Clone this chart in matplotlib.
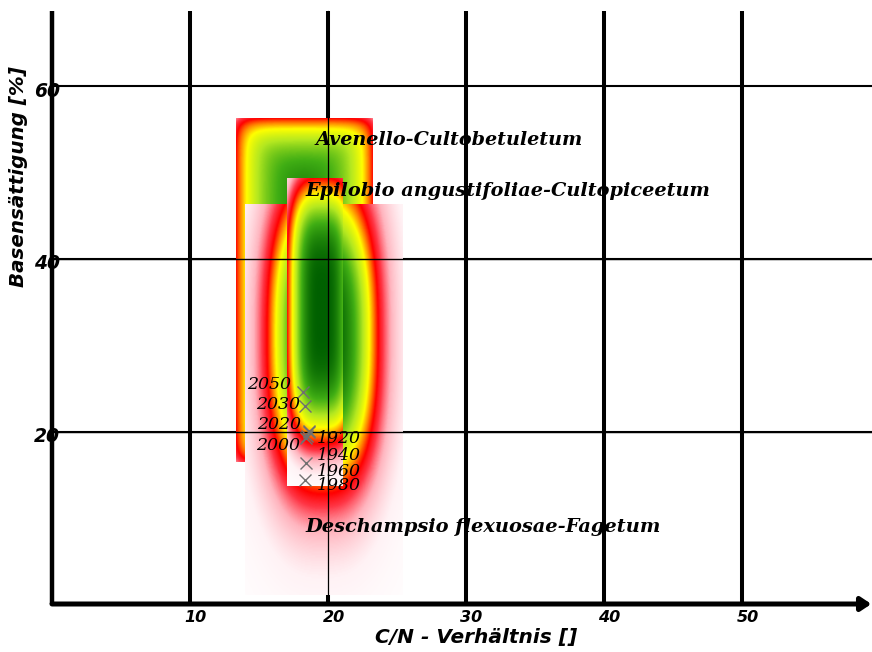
import numpy as np
import matplotlib
matplotlib.use('Agg')
import matplotlib.pyplot as plt
from matplotlib.colors import LinearSegmentedColormap

# ---------------- data ----------------
x_ticks = [10, 20, 30, 40, 50]
y_ticks = [20, 40, 60]
x_label = "C/N - Verhältnis []"
y_label = "Basensättigung [%]"

years = ['1920', '1940', '1960', '1980', '2000', '2020', '2030', '2050']
cn_values = [18.6, 18.4, 18.4, 18.3, 18.5, 18.6, 18.3, 18.2]
bs_values = [19.9, 19.3, 16.3, 14.4, 19.5, 20.1, 23.0, 24.6]

community_names = ['Avenello-Cultobetuletum',
                   'Deschampsio flexuosae-Fagetum',
                   'Epilobio angustifoliae-Cultopiceetum']
# extent of each niche field: (cn_min, cn_max, bs_min, bs_max)
niche_extents = [(13.3, 23.2, 16.5, 56.3),
                 (14.0, 25.4, 1.0, 46.3),
                 (17.0, 21.0, 13.7, 49.4)]
# optimum (C/N, base saturation) and spread for D and E
niche_centers = [None, (19.6, 31.1), (19.5, 34.0)]
niche_spreads = [None, (4.0, 18.3), (2.5, 15.4)]
label_anchor = [(19.06, 53.8), (18.33, 8.93), (18.33, 47.9)]

# ---------------- figure ----------------
W, H = 872, 652
fig = plt.figure(figsize=(W / 100, H / 100), dpi=100)
ax = fig.add_axes([0, 0, 1, 1])
px_x = 13.8     # pixels per C/N unit
px_y = 8.625    # pixels per % unit
x0px, y0px = 52, 604
xmin = -x0px / px_x
xmax = (W - x0px) / px_x
ymin = -(H - y0px) / px_y
ymax = y0px / px_y
ax.set_xlim(xmin, xmax)
ax.set_ylim(ymin, ymax)
ax.axis('off')
ytop = (y0px - 11) / px_y

cmap = LinearSegmentedColormap.from_list('niche', [
    (0.0, '#ffffff'), (0.06, '#fff2f5'), (0.15, '#ffb4be'), (0.24, '#ff3545'),
    (0.31, '#ff0000'), (0.4, '#ff8000'), (0.5, '#ffff00'), (0.64, '#b4e820'),
    (0.8, '#40ae14'), (1.0, '#006000')])

# grid (thick)
for xt in x_ticks:
    ax.plot([xt, xt], [0, ytop], color='black', lw=2.9, zorder=1, solid_capstyle='butt')
for yt in y_ticks:
    ax.plot([0, xmax], [yt, yt], color='black', lw=1.5, zorder=1)
ax.plot([0, 0], [0, ytop], color='black', lw=3.2, zorder=8, solid_capstyle='butt')

# niche fields
def field(i, n=300):
    xa, xb, ya, yb = niche_extents[i]
    xs = np.linspace(xa, xb, n)
    ys = np.linspace(ya, yb, n)
    X, Y = np.meshgrid(xs, ys)
    if i == 0:
        dx = np.minimum(X - xa, xb - X) * px_x
        dy = np.minimum(Y - ya, yb - Y) * px_y
        ex = np.exp(-dx / 34.0)
        ey = np.exp(-dy / 34.0)
        e = (ex ** 4 + ey ** 4) ** 0.25
        V = np.clip(1 - 0.68 * e, 0, 1)
    elif i == 1:
        cx, cy = niche_centers[i]
        a, b = niche_spreads[i]
        p = 2.5
        r = (np.abs((X - cx) / a) ** p + np.abs((Y - cy) / b) ** p) ** (1 / p)
        inner = np.exp(-1.15 * r ** 3)
        outer = 0.317 * np.exp(-3.0 * (r - 1))
        V = np.where(r < 1, inner, outer)
    else:
        cx, cy = niche_centers[i]
        a, b = niche_spreads[i]
        V = np.exp(-1.15 * (np.abs((X - cx) / a) ** 3 + np.abs((Y - cy) / b) ** 4))
    return V

for i, z in zip([0, 1, 2], [2, 3, 4]):
    V = field(i)
    xa, xb, ya, yb = niche_extents[i]
    ax.imshow(V, extent=(xa, xb, ya, yb), origin='lower', cmap=cmap,
              vmin=0, vmax=1, interpolation='bilinear', aspect='auto', zorder=z)

# thin lines over fields
ax.plot([20, 20], [0, ytop], color='black', lw=0.9, zorder=5)
for yt in [20, 40]:
    ax.plot([0, xmax], [yt, yt], color='black', lw=1.0, zorder=5)

# x axis with arrow
ax.annotate('', xy=(xmax - 0.05, 0), xytext=(0, 0),
            arrowprops=dict(arrowstyle='-|>,head_length=0.6,head_width=0.4',
                            lw=3.6, color='black', shrinkA=0, shrinkB=0),
            zorder=8, annotation_clip=False)

# sample points
ax.plot(cn_values, bs_values, linestyle='none', marker='x', color='#707070',
        markersize=8, mew=1.0, zorder=6)
label_offsets_px = [(8, -6), (11, -18), (11, -8), (12, -6),
                    (-7, -10), (-8, 6), (-4, 1), (-12, 7)]
for yr, cx, cy, (ox, oy) in zip(years, cn_values, bs_values, label_offsets_px):
    ax.annotate(yr, (cx, cy), xytext=(ox * 0.72, oy * 0.72), textcoords='offset points',
                ha='left' if ox > 0 else 'right', va='center',
                fontsize=12.5, family='DejaVu Serif', style='italic', zorder=7)

# tick labels
tick_font = dict(family='DejaVu Sans', weight='bold', style='italic')
for xt in x_ticks:
    ax.text(xt + 0.4, -13 / px_y, str(xt), ha='center', va='center', fontsize=11.5,
            zorder=9, **tick_font)
for yt in y_ticks:
    ax.text(-5 / px_x, yt - 5 / px_y, str(yt), ha='center', va='center', fontsize=13.5,
            zorder=9, **tick_font)

renderer = fig.canvas.get_renderer()

def fit(t, target, axis='w'):
    bb = t.get_window_extent(renderer)
    cur = bb.width if axis == 'w' else bb.height
    t.set_fontsize(t.get_fontsize() * target / cur)

xl = ax.text((476 - x0px) / px_x, (y0px - 637) / px_y, x_label, ha='center', va='center',
             fontsize=12, zorder=9, **tick_font)
fit(xl, 202)
yl = ax.text((19 - x0px) / px_x, (y0px - 177) / px_y, y_label, ha='center', va='center',
             rotation=90, fontsize=12, zorder=9, **tick_font)
fit(yl, 220, 'h')

targets = [268, 355, 405]
for name, (lx, ly), tw in zip(community_names, label_anchor, targets):
    t = ax.text(lx, ly, name, ha='left', va='center', fontsize=13,
                family='DejaVu Serif', style='italic', weight='bold', zorder=7)
    fit(t, tw)

fig.savefig('out.png', dpi=100)
